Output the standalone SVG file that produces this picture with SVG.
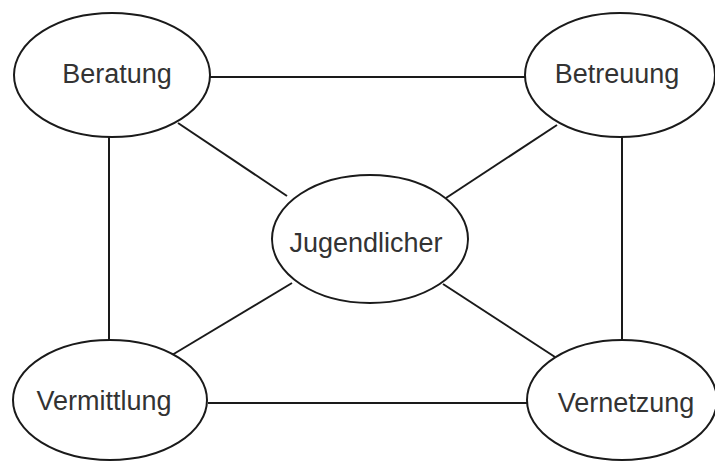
<svg xmlns="http://www.w3.org/2000/svg" width="715" height="461" viewBox="0 0 715 461">
  <style>
    .edge { stroke: #1a1a1a; stroke-width: 2; fill: none; }
    .node ellipse { fill: #ffffff; stroke: #1a1a1a; stroke-width: 2; }
    .node text { font-family: "Liberation Sans", Arial, sans-serif; font-size: 27px; fill: #333333; text-anchor: middle; }
  </style>
  <rect width="715" height="461" fill="#ffffff"/>
  <g id="connectors">
    <line class="edge" x1="210" y1="77" x2="525" y2="77"/>
    <line class="edge" x1="109" y1="137" x2="109" y2="340"/>
    <line class="edge" x1="622" y1="137" x2="622" y2="340"/>
    <line class="edge" x1="208" y1="403" x2="527" y2="403"/>
    <line class="edge" x1="178" y1="123" x2="287" y2="196"/>
    <line class="edge" x1="557" y1="125" x2="446" y2="198"/>
    <line class="edge" x1="172" y1="355" x2="292" y2="283"/>
    <line class="edge" x1="555" y1="357" x2="443" y2="284"/>
  </g>
  <g id="beratung" class="node">
    <ellipse cx="112" cy="75" rx="98" ry="62"/>
    <text x="117" y="83">Beratung</text>
  </g>
  <g id="betreuung" class="node">
    <ellipse cx="620" cy="75" rx="95" ry="62"/>
    <text x="617" y="83">Betreuung</text>
  </g>
  <g id="jugendlicher" class="node">
    <ellipse cx="370" cy="239" rx="98" ry="64"/>
    <text x="366" y="252">Jugendlicher</text>
  </g>
  <g id="vermittlung" class="node">
    <ellipse cx="110" cy="400" rx="97" ry="60"/>
    <text x="104" y="410">Vermittlung</text>
  </g>
  <g id="vernetzung" class="node">
    <ellipse cx="622" cy="400" rx="95" ry="60"/>
    <text x="626" y="412">Vernetzung</text>
  </g>
</svg>
